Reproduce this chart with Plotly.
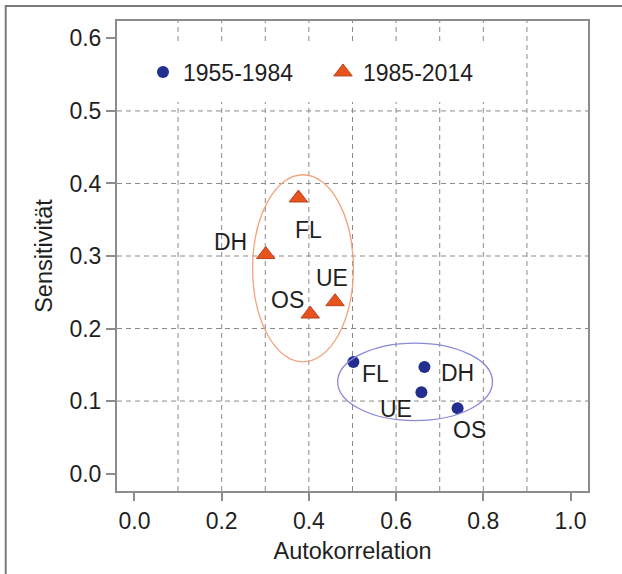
import plotly.graph_objects as go

# ---------------- data ----------------
labels = ["FL", "DH", "UE", "OS"]
x_1955 = [0.502, 0.665, 0.658, 0.741]
y_1955 = [0.154, 0.147, 0.112, 0.090]
x_1985 = [0.376, 0.301, 0.460, 0.403]
y_1985 = [0.380, 0.302, 0.237, 0.220]
series_names = ["1955-1984", "1985-2014"]
x_ticks = [0.0, 0.2, 0.4, 0.6, 0.8, 1.0]
x_ticklabels = ["0.0", "0.2", "0.4", "0.6", "0.8", "1.0"]
y_ticks = [0.0, 0.1, 0.2, 0.3, 0.4, 0.5, 0.6]
y_ticklabels = ["0.0", "0.1", "0.2", "0.3", "0.4", "0.5", "0.6"]
grid_x = [0.1, 0.2, 0.3, 0.4, 0.5, 0.6, 0.7, 0.8, 0.9]
grid_y = [0.1, 0.2, 0.3, 0.4, 0.5]

# ---------------- style ----------------
W, H = 622, 574
ML, MR, MT, MB = 117, 34, 21, 83
PW, PH = W - ML - MR, H - MT - MB
FONT = "Liberation Sans, Arial, Helvetica, sans-serif"
FS = 23
FS_TITLE = 23.5
TXT = "#1f1f1f"
AXC = "#8c8c8c"
BLUE = "#232f8e"
ORANGE = "#e8521c"
ORANGE_EDGE = "#b8441f"
# label offsets in px (dx right, dy up)
off_1955 = [(22, -12), (33, -6), (-25, -17), (12, -22)]
off_1985 = [(10, -32), (-35, 13), (-3, 24), (-23, 14)]


def px(xp):
    return (xp - ML) / PW


def py(yp):
    return (H - MB - yp) / PH


fig = go.Figure()
fig.add_trace(go.Scatter(
    x=x_1955, y=y_1955, mode="markers", name=series_names[0],
    marker=dict(symbol="circle", size=12, color=BLUE, line=dict(width=0)),
))
fig.add_trace(go.Scatter(
    x=x_1985, y=y_1985, mode="markers", name=series_names[1],
    marker=dict(symbol="triangle-up", size=16, color=ORANGE,
                line=dict(width=1, color=ORANGE_EDGE)),
))

shapes = []
for g in grid_x:
    shapes.append(dict(type="line", xref="x", yref="paper", x0=g, x1=g, y0=0, y1=1,
                       line=dict(color="#8a8a8a", width=1, dash="5px,4px"), layer="below"))
for g in grid_y:
    shapes.append(dict(type="line", xref="paper", yref="y", x0=0, x1=1, y0=g, y1=g,
                       line=dict(color="#8a8a8a", width=1, dash="5px,4px"), layer="below"))
# legend background box
shapes.append(dict(type="rect", xref="paper", yref="paper",
                   x0=px(135), x1=px(496), y0=py(102), y1=py(43),
                   fillcolor="white", line=dict(width=0), layer="below"))
# group ellipses
shapes.append(dict(type="circle", xref="x", yref="y", x0=0.271, x1=0.502, y0=0.154, y1=0.412,
                   line=dict(color="#f3a27c", width=1.3)))
shapes.append(dict(type="circle", xref="x", yref="y", x0=0.466, x1=0.821, y0=0.073, y1=0.180,
                   line=dict(color="#8a8ad8", width=1.3)))
# outer frame (left and top edges)
shapes.append(dict(type="path", xref="paper", yref="paper",
                   path=f"M {px(5.7)} {py(580)} L {px(5.7)} {py(6)} L {px(630)} {py(6)}",
                   line=dict(color="#7a7a7a", width=2)))

annotations = []
for lab, x, y, (dx, dy) in zip(labels, x_1955, y_1955, off_1955):
    annotations.append(dict(x=x, y=y, text=lab, showarrow=False, xshift=dx, yshift=dy,
                            font=dict(family=FONT, size=FS, color=TXT)))
for lab, x, y, (dx, dy) in zip(labels, x_1985, y_1985, off_1985):
    annotations.append(dict(x=x, y=y, text=lab, showarrow=False, xshift=dx, yshift=dy,
                            font=dict(family=FONT, size=FS, color=TXT)))

fig.update_layout(
    width=W, height=H,
    margin=dict(l=ML, r=MR, t=MT, b=MB, autoexpand=False),
    paper_bgcolor="white", plot_bgcolor="white",
    font=dict(family=FONT, size=FS, color=TXT),
    showlegend=True,
    legend=dict(orientation="h", x=px(143), y=py(72), xanchor="left", yanchor="middle",
                bgcolor="rgba(0,0,0,0)", font=dict(family=FONT, size=FS, color=TXT),
                entrywidth=135, entrywidthmode="pixels", itemclick=False),
    shapes=shapes,
    annotations=annotations,
    xaxis=dict(range=[-0.04, 1.04], tickvals=x_ticks, ticktext=x_ticklabels,
               showgrid=False, zeroline=False, showline=True, mirror=True,
               linecolor=AXC, linewidth=2, ticks="outside", ticklen=8, tickwidth=1.5,
               tickcolor=AXC, tickfont=dict(family=FONT, size=FS, color=TXT),
               title=dict(text="Autokorrelation", standoff=10,
                          font=dict(family=FONT, size=FS_TITLE, color=TXT)),
               automargin=False),
    yaxis=dict(range=[-0.024, 0.624], tickvals=y_ticks, ticktext=y_ticklabels,
               showgrid=False, zeroline=False, showline=True, mirror=True,
               linecolor=AXC, linewidth=2, ticks="outside", ticklen=9, tickwidth=1.5,
               tickcolor=AXC, tickfont=dict(family=FONT, size=FS, color=TXT),
               title=dict(text="Sensitivität", standoff=10,
                          font=dict(family=FONT, size=FS_TITLE, color=TXT)),
               automargin=False),
)

fig.write_html("out.html", config={"displayModeBar": False},
               post_script="document.body.style.margin='0px';")
